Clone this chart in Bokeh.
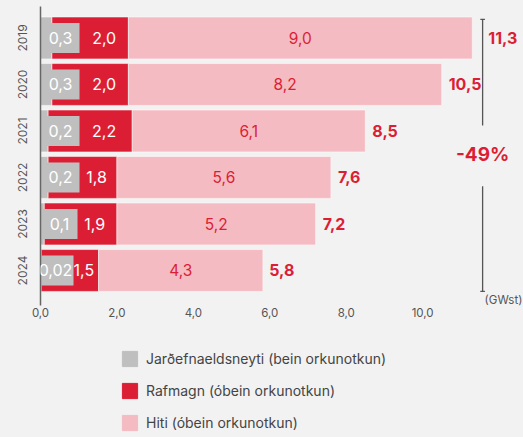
from bokeh.plotting import figure
from bokeh.layouts import column
from bokeh.core.properties import value
from bokeh.models import (Range1d, FixedTicker, Label, LabelSet, Legend, LegendItem,
                          ColumnDataSource)
from bokeh.embed import file_html
from bokeh.resources import INLINE

# ---- data ----
years = ["2019", "2020", "2021", "2022", "2023", "2024"]
fossil = [0.3, 0.3, 0.2, 0.2, 0.1, 0.02]
electricity = [2.0, 2.0, 2.2, 1.8, 1.9, 1.5]
heat = [9.0, 8.2, 6.1, 5.6, 5.2, 4.3]
totals = [11.3, 10.5, 8.5, 7.6, 7.2, 5.8]
change_label = "-49%"
unit_label = "(GWst)"
x_ticks = [0, 2, 4, 6, 8, 10]
x_tick_labels = ["0,0", "2,0", "4,0", "6,0", "8,0", "10,0"]
series_names = ["Jarðefnaeldsneyti (bein orkunotkun)",
                "Rafmagn (óbein orkunotkun)",
                "Hiti (óbein orkunotkun)"]

# ---- style ----
BG = "#f2f2f2"
GREY = "#bfbfbf"
RED = "#dc1e35"
PINK = "#f4bbc2"
TXT = "#555555"
FONT = "Inter"
COLORS = [GREY, RED, PINK]
FRAME_W, FRAME_H = 483, 299
X_END = 12.64
Y_TOP, Y_BOT = -0.677, 5.753
PPU = FRAME_W / X_END                      # pixels per data unit
BOX_CX_PX = [20, 20, 20, 20, 19, 15]       # grey label box centres (px from axis)
BOX_W_PX = [38, 38, 38, 38, 36, 36]


def fmt(v):
    return str(v).replace(".", ",")


ypos = list(range(len(years)))
src = ColumnDataSource(dict(
    y=ypos,
    fossil=fossil,
    electricity=electricity,
    heat=heat,
    box_x=[c / PPU for c in BOX_CX_PX],
    box_w=BOX_W_PX,
    red_mid=[f + e / 2 for f, e in zip(fossil, electricity)],
    pink_mid=[f + e + h / 2 for f, e, h in zip(fossil, electricity, heat)],
    total=totals,
    fossil_lbl=[fmt(v) for v in fossil],
    red_lbl=[fmt(v) for v in electricity],
    pink_lbl=[fmt(v) for v in heat],
    total_lbl=[fmt(v) for v in totals],
    total_off=[16 if i == 0 else 7 for i in ypos],
))

p = figure(frame_width=FRAME_W, frame_height=FRAME_H,
           x_range=Range1d(0, X_END), y_range=Range1d(Y_BOT, Y_TOP),
           output_backend="svg", toolbar_location=None,
           min_border_left=40, min_border_right=0, min_border_top=6,
           min_border_bottom=0,
           background_fill_color=BG, border_fill_color=BG,
           outline_line_color=None)
p.grid.visible = False

rs = p.hbar_stack(["fossil", "electricity", "heat"], y="y", height=0.9,
                  color=COLORS, source=src,
                  line_color="white", line_alpha=0.5, line_width=1)

# axes
xa = p.xaxis[0]
xa.ticker = FixedTicker(ticks=x_ticks)
xa.major_label_overrides = {t: l for t, l in zip(x_ticks, x_tick_labels)}
xa.axis_line_color = None
xa.major_tick_line_color = None
xa.minor_tick_line_color = None
xa.major_tick_out = 0
xa.major_label_standoff = 2
xa.major_label_text_font = FONT
xa.major_label_text_font_size = "11.5px"
xa.major_label_text_color = TXT

ya = p.yaxis[0]
ya.ticker = FixedTicker(ticks=ypos)
ya.major_label_overrides = {i: y for i, y in zip(ypos, years)}
ya.axis_line_color = "#666666"
ya.axis_line_width = 1.5
ya.major_tick_line_color = None
ya.minor_tick_line_color = None
ya.major_tick_out = 0
ya.major_label_orientation = "vertical"
ya.major_label_standoff = 13
ya.major_label_text_font = FONT
ya.major_label_text_font_size = "12px"
ya.major_label_text_color = TXT

# fossil labels in grey boxes
p.rect(x="box_x", y="y", width="box_w", height=30, width_units="screen",
       height_units="screen", fill_color=GREY, line_color=None, source=src)
p.add_layout(LabelSet(x="box_x", y="y", text="fossil_lbl", source=src,
                      text_align="center", text_baseline="middle",
                      text_color="white", text_font=value(FONT), text_font_size="16px"))

p.add_layout(LabelSet(x="red_mid", y="y", text="red_lbl", x_offset=14, source=src,
                      text_align="center", text_baseline="middle",
                      text_color="white", text_font=value(FONT), text_font_size="16px"))
p.add_layout(LabelSet(x="pink_mid", y="y", text="pink_lbl", source=src,
                      text_align="center", text_baseline="middle",
                      text_color=RED, text_font=value(FONT), text_font_size="15.5px"))
p.add_layout(LabelSet(x="total", y="y", text="total_lbl", x_offset="total_off",
                      source=src, text_align="left", text_baseline="middle",
                      text_color=RED, text_font=value(FONT), text_font_size="16px",
                      text_font_style="bold"))

# bracket
xb = max(totals) + 0.27
p.segment(x0=[xb, xb], x1=[xb, xb], y0=[-0.4, 3.19], y1=[1.88, 5.45],
          line_color="#555555", line_width=1.3)
p.segment(x0=[xb - 0.06, xb - 0.06], x1=[xb + 0.06, xb + 0.06],
          y0=[-0.4, 5.45], y1=[-0.4, 5.45], line_color="#555555", line_width=1.3)
p.add_layout(Label(x=xb, y=2.5, text=change_label, text_align="center",
                   text_baseline="middle", text_color=RED, text_font=FONT,
                   text_font_size="19px", text_font_style="bold"))
p.add_layout(Label(x=xb, y=5.645, x_offset=2, text=unit_label, text_align="left",
                   text_baseline="middle", text_color=TXT, text_font=FONT,
                   text_font_size="11.5px"))

# legend figure
p2 = figure(width=523, height=114, x_range=Range1d(0, 1), y_range=Range1d(0, 1),
            output_backend="svg", toolbar_location=None,
            min_border_left=0, min_border_right=0, min_border_top=0,
            min_border_bottom=0,
            background_fill_color=BG, border_fill_color=BG,
            outline_line_color=None)
p2.axis.visible = False
p2.grid.visible = False
dummy = ColumnDataSource(dict(y=[-5], left=[0], right=[1]))
lrs = [p2.hbar(y="y", left="left", right="right", height=0.5, color=c, source=dummy)
       for c in COLORS]
legend = Legend(items=[LegendItem(label=n, renderers=[r]) for n, r in zip(series_names, lrs)],
                orientation="vertical", location=(80, 1), margin=0, padding=0,
                spacing=13, glyph_width=19, glyph_height=19, label_standoff=7,
                label_height=19,
                label_text_font=FONT, label_text_font_size="14px",
                label_text_color="#444444", background_fill_alpha=0,
                border_line_color=None)
p2.add_layout(legend)

layout = column(p, p2, spacing=0)
html = file_html(layout, INLINE)
html = html.replace("</head>",
                    "<style>html,body{margin:0;background:#f2f2f2;}</style></head>", 1)
open("out.html", "w").write(html)
